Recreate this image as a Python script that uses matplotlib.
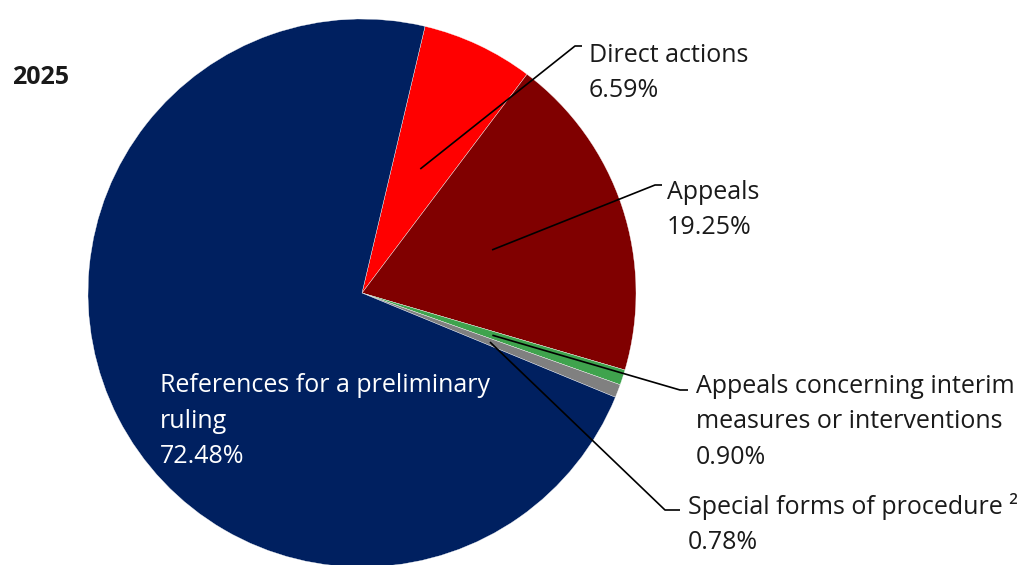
import numpy as np
import matplotlib.pyplot as plt

# Slice data (clockwise from top)
categories = ["Direct actions", "Appeals",
              "Appeals concerning interim\nmeasures or interventions",
              "Special forms of procedure \u00b2",
              "References for a preliminary\nruling"]
shares = [6.59, 19.25, 0.90, 0.78, 72.48]
colors = ["#FF0000", "#800000", "#3FA34D", "#808080", "#002060"]
year = "2025"

plt.rcParams['font.family'] = ['Open Sans', 'DejaVu Sans']

fig = plt.figure(figsize=(10.21, 5.65), dpi=100)
ax = fig.add_axes([0, 0, 1, 1])

cx, cy, R = 362, 272, 274
start = 76.7
ax.pie(shares, colors=colors, startangle=start, counterclock=False,
       center=(cx, cy), radius=R, frame=True,
       wedgeprops=dict(edgecolor='white', linewidth=0.25))
ax.set_xlim(0, 1021)
ax.set_ylim(0, 565)
ax.set_aspect('equal')
ax.axis('off')

# anchor points at half radius, slice mid-angle
cum = np.cumsum([0] + shares)
mid = start - (cum[:-1] + np.array(shares) / 2) * 3.6
ax_pts = [(cx + 0.5 * R * np.cos(np.radians(a)), cy + 0.5 * R * np.sin(np.radians(a))) for a in mid]

fs = 18
txtc = "#1a1a1a"
# label layout: (elbow x, elbow y, end x, text x, text center y)
layout = [
    (575, 565 - 46, 582, 589, 565 - 73),
    (655, 565 - 185, 662, 667, 565 - 210),
    (680, 565 - 390, 688, 696, 565 - 422),
    (665, 565 - 510, 680, 688, 565 - 524),
]
for i in range(4):
    ex, ey, hx, tx, ty = layout[i]
    x0, y0 = ax_pts[i]
    ax.plot([x0, ex, hx], [y0, ey, ey], color='black', lw=1.2, solid_capstyle='butt')
    ax.text(tx, ty, "%s\n%.2f%%" % (categories[i], shares[i]), fontsize=fs, color=txtc,
            va='center', ha='left', linespacing=1.55)

ax.text(160, 565 - 421, "%s\n%.2f%%" % (categories[4], shares[4]), fontsize=fs, color='white',
        va='center', ha='left', linespacing=1.55)

ax.text(12, 565 - 77, year, fontsize=fs, fontweight='bold', color=txtc, va='center', ha='left')

fig.savefig("out.png", dpi=100)
